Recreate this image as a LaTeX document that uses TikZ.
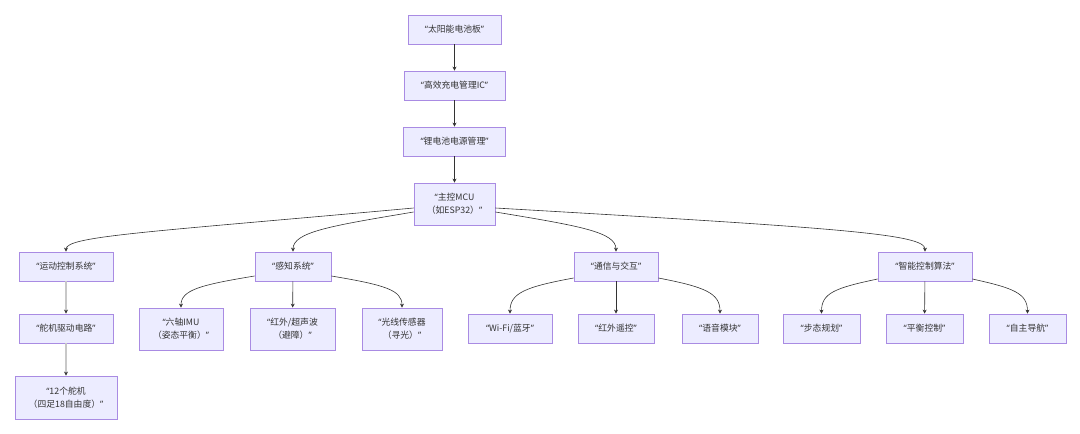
\documentclass[tikz,border=0pt]{standalone}
\usepackage{fontspec}
\setmainfont{Noto Sans CJK SC}
\newfontfamily\lat{Noto Sans}
\usetikzlibrary{arrows.meta}
\definecolor{boxfill}{HTML}{ECECFF}
\definecolor{boxline}{HTML}{A98BE3}
\definecolor{edgecol}{HTML}{333333}
\definecolor{thickcol}{HTML}{C8C8C8}
\newcommand{\oq}{{\lat“}}
\newcommand{\cq}{{\lat”}}
\begin{document}
\begin{tikzpicture}[x=1pt,y=-1pt,
  box/.style={draw=boxline,fill=boxfill,line width=0.8pt,inner sep=0pt,align=center,
    text=edgecol,font=\fontsize{8.8}{13}\selectfont},
  edge/.style={draw=edgecol,line width=0.6pt,-{Stealth[length=4pt,width=4pt]}},
  thick edge/.style={draw=thickcol,line width=2pt,-{Stealth[length=4pt,width=4pt,color=edgecol]}}]
\useasboundingbox (0,0) rectangle (1080,434);
\node[box,minimum width=93pt,minimum height=29pt] (sun) at (454.5,29.5) {\oq 太阳能电池板\cq};
\node[box,minimum width=101pt,minimum height=29pt] (chg) at (454.5,85.5) {\oq 高效充电管理IC\cq};
\node[box,minimum width=102pt,minimum height=29pt] (bat) at (454.5,141.5) {\oq 锂电池电源管理\cq};
\node[box,minimum width=81pt,minimum height=42pt] (mcu) at (454.5,204) {\oq 主控MCU\\（如ESP32）\cq};
\node[box,minimum width=94pt,minimum height=29pt] (mot) at (66,266.5) {\oq 运动控制系统\cq};
\node[box,minimum width=76pt,minimum height=29pt] (sen) at (293,266.5) {\oq 感知系统\cq};
\node[box,minimum width=84pt,minimum height=29pt] (com) at (616,266.5) {\oq 通信与交互\cq};
\node[box,minimum width=94pt,minimum height=29pt] (alg) at (925,266.5) {\oq 智能控制算法\cq};
\node[box,minimum width=94pt,minimum height=29pt] (srv) at (66,328.5) {\oq 舵机驱动电路\cq};
\node[box,minimum width=84pt,minimum height=42pt] (imu) at (181,329) {\oq 六轴IMU\\（姿态平衡）\cq};
\node[box,minimum width=85pt,minimum height=42pt] (ir) at (292.5,329) {\oq 红外/超声波\\（避障）\cq};
\node[box,minimum width=80pt,minimum height=42pt] (lgt) at (402,329) {\oq 光线传感器\\（寻光）\cq};
\node[box,minimum width=84pt,minimum height=29pt] (wifi) at (510,328.5) {\oq Wi-Fi/蓝牙\cq};
\node[box,minimum width=76pt,minimum height=29pt] (irc) at (616,328.5) {\oq 红外遥控\cq};
\node[box,minimum width=76pt,minimum height=29pt] (voc) at (720,328.5) {\oq 语音模块\cq};
\node[box,minimum width=77pt,minimum height=29pt] (gait) at (821.5,328.5) {\oq 步态规划\cq};
\node[box,minimum width=77pt,minimum height=29pt] (bal) at (924.5,328.5) {\oq 平衡控制\cq};
\node[box,minimum width=77pt,minimum height=29pt] (nav) at (1027.5,328.5) {\oq 自主导航\cq};
\node[box,minimum width=102pt,minimum height=43pt] (s12) at (66,397.5) {\oq 12个舵机\\（四足18自由度）\cq};
% edges
\draw[edge] (sun) -- (chg);
\draw[edge] (chg) -- (bat);
\draw[edge] (bat) -- (mcu);
\draw[edge] ([yshift=-4pt]mcu.west) .. controls (150,232) and (66,236) .. (mot.north);
\draw[edge] ([yshift=-8pt]mcu.west) .. controls (330,226) and (293,232) .. (sen.north);
\draw[edge] ([yshift=-8pt]mcu.east) .. controls (580,226) and (616,232) .. (com.north);
\draw[edge] ([yshift=-4pt]mcu.east) .. controls (840,228) and (925,234) .. (alg.north);
\draw[thick edge] (mot) -- (srv);
\draw[thick edge] (srv) -- (s12);
\draw[edge] ([yshift=-9.5pt]sen.west) .. controls (200,285) and (181,290) .. (imu.north);
\draw[edge] (sen) -- (ir);
\draw[edge] ([yshift=-9.5pt]sen.east) .. controls (385,285) and (402,290) .. (lgt.north);
\draw[edge] ([yshift=-11.5pt]com.west) .. controls (525,287) and (510,293) .. (wifi.north);
\draw[edge] (com) -- (irc);
\draw[edge] ([yshift=-11.5pt]com.east) .. controls (705,287) and (720,293) .. (voc.north);
\draw[edge] ([yshift=-12.5pt]alg.west) .. controls (835,288) and (821.5,293) .. (gait.north);
\draw[edge] (alg) -- (bal);
\draw[edge] ([yshift=-12.5pt]alg.east) .. controls (1013,288) and (1027.5,293) .. (nav.north);
\end{tikzpicture}
\end{document}
